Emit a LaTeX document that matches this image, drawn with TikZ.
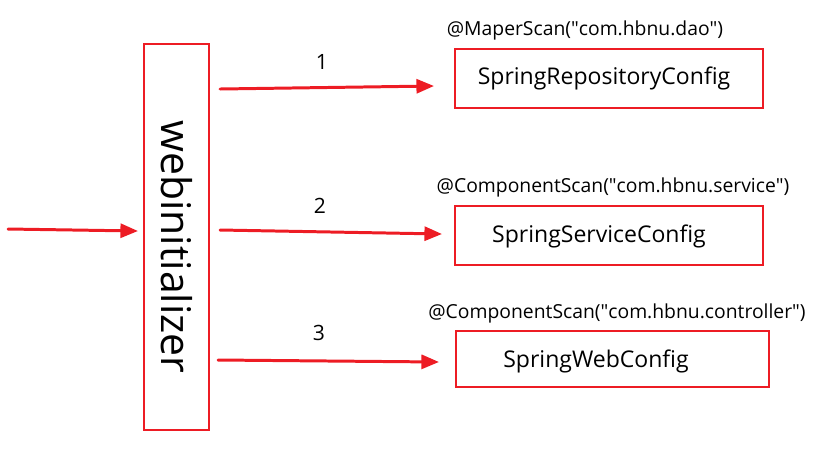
\documentclass[tikz,border=0pt]{standalone}
\usepackage{fontspec}
\setmainfont{Open Sans}
\usepackage{xcolor}
\usepackage{tikz}
\usetikzlibrary{arrows.meta, positioning, calc}
\definecolor{springred}{RGB}{237,28,36}

\begin{document}
\begin{tikzpicture}[x=0.02cm, y=-0.02cm,
    cfgbox/.style={draw=springred, line width=1.3pt, minimum width=308*0.02cm,
                   minimum height=59*0.02cm, inner sep=0pt},
    cfgtext/.style={font=\fontsize{13.1}{15}\selectfont},
    scanlabel/.style={font=\fontsize{11}{13}\selectfont},
    numlabel/.style={font=\fontsize{12}{14}\selectfont},
    redarrow/.style={springred, line width=1.7pt, line cap=round,
                     -{Triangle[length=10pt, width=8pt]}}]
  % Canvas
  \useasboundingbox (0,0) rectangle (838,451);

  % Initializer --- tall box with rotated text
  \node[draw=springred, line width=1.3pt, minimum width=65*0.02cm, minimum height=386*0.02cm,
        inner sep=0pt] (init) at (176.5,237) {};
  \node[rotate=-90, font=\fontsize{23.3}{26}\selectfont] (initlabel) at (176.5,247) {webinitializer};

  % Config boxes
  \node[cfgbox] (repo) at (609,78.5) {};
  \node[cfgtext] (repotext) at (604,78) {SpringRepositoryConfig};
  \node[cfgbox] (service) at (609,235.5) {};
  \node[cfgtext] (servicetext) at (599,236) {SpringServiceConfig};
  \node[cfgbox, minimum width=313*0.02cm, minimum height=56*0.02cm] (web) at (612.5,359) {};
  \node[cfgtext] (webtext) at (596,361) {SpringWebConfig};

  % Scan annotations
  \node[scanlabel] (reposcan) at (585,30) {@MaperScan(\textquotedbl com.hbnu.dao\textquotedbl)};
  \node[scanlabel] (servicescan) at (613,187) {@ComponentScan(\textquotedbl com.hbnu.service\textquotedbl)};
  \node[scanlabel] (webscan) at (617,313) {@ComponentScan(\textquotedbl com.hbnu.controller\textquotedbl)};

  % Arrow end points
  \coordinate (in) at (8,229);
  \coordinate (initin) at (138,231);
  \coordinate (out1) at (220,89);
  \coordinate (end1) at (434,86);
  \coordinate (out2) at (220,230);
  \coordinate (end2) at (442,234);
  \coordinate (out3) at (218,360);
  \coordinate (end3) at (439,362);

  % Arrows
  \draw[redarrow] (in) -- (initin);
  \draw[redarrow] (out1) -- (end1);
  \draw[redarrow] (out2) -- (end2);
  \draw[redarrow] (out3) -- (end3);

  % Step numbers
  \node[numlabel] (n1) at (322,62) {1};
  \node[numlabel] (n2) at (320,206) {2};
  \node[numlabel] (n3) at (319,333) {3};
\end{tikzpicture}
\end{document}
